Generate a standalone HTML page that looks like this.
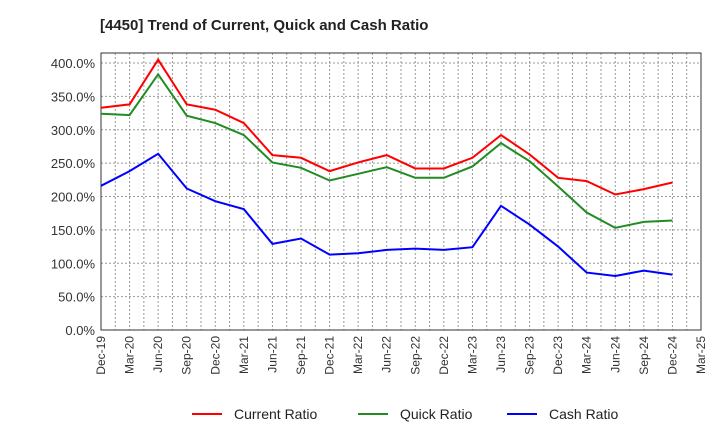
<!DOCTYPE html>
<html><head><meta charset="utf-8"><style>
body{margin:0;background:#fff;font-family:"Liberation Sans",sans-serif}
</style></head><body>
<svg id="c" width="720" height="440" xmlns="http://www.w3.org/2000/svg">
<text x="100" y="30" font-size="15" font-weight="bold" fill="#222">[4450]  Trend of Current, Quick and Cash Ratio</text>
<g id="grid"></g><g id="axes"></g><g id="series"></g>
<g>
<line x1="192" y1="414" x2="222" y2="414" stroke="#f00" stroke-width="2"/><text x="234" y="419" font-size="14" fill="#222">Current Ratio</text>
<line x1="358" y1="414" x2="388" y2="414" stroke="#228b22" stroke-width="2"/><text x="400" y="419" font-size="14" fill="#222">Quick Ratio</text>
<line x1="507" y1="414" x2="537" y2="414" stroke="#00f" stroke-width="2"/><text x="549" y="419" font-size="14" fill="#222">Cash Ratio</text>
</g>
</svg>
<script>
const xLabels=["Dec-19","Mar-20","Jun-20","Sep-20","Dec-20","Mar-21","Jun-21","Sep-21","Dec-21","Mar-22","Jun-22","Sep-22","Dec-22","Mar-23","Jun-23","Sep-23","Dec-23","Mar-24","Jun-24","Sep-24","Dec-24","Mar-25"];
const yTicks=[0,50,100,150,200,250,300,350,400];
const current=[333,338,405,338,330,310,262,258,238,251,262,242,242,258,292,263,228,223,203,211,221];
const quick=[324,322,383,321,310,292,251,243,224,234,244,228,228,245,280,253,215,176,153,162,164];
const cash=[216,238,264,212,193,181,129,137,113,115,120,122,120,124,186,158,125,86,81,89,83];
const L=101,R=701,T=53,B=330,NS="http://www.w3.org/2000/svg";
const xs=i=>L+(R-L)*i/(xLabels.length-1);
const ys=v=>B-(B-63)*v/400;
function mk(t,a,p){const e=document.createElementNS(NS,t);for(const k in a)e.setAttribute(k,a[k]);p.appendChild(e);return e;}
const g=document.getElementById('grid'),ax=document.getElementById('axes'),s=document.getElementById('series');
for(let i=0;i<=(xLabels.length-1)*2;i++){const x=L+(R-L)*i/((xLabels.length-1)*2);
const l=mk('line',{x1:x,x2:x,y1:T,y2:B,stroke:'#999','stroke-dasharray':'2,2','stroke-width':1},g);
}
yTicks.forEach(v=>{const y=ys(v);
const l=mk('line',{x1:L,x2:R,y1:y,y2:y,stroke:'#999','stroke-dasharray':'2,2','stroke-width':1},g);

const t=mk('text',{x:L-6,y:y+5,'text-anchor':'end','font-size':13,fill:'#333'},ax);t.textContent=v.toFixed(1)+'%';
});
const fr=mk('rect',{x:L,y:T,width:R-L,height:B-T,fill:'none',stroke:'#333','stroke-width':1},ax);

xLabels.forEach((lb,i)=>{const x=xs(i);
const t=mk('text',{x:x+4,y:B+6,'text-anchor':'end','font-size':12,fill:'#333',transform:`rotate(-90 ${x+4} ${B+6})`},ax);t.textContent=lb;
});
[[current,'#f00','current-ratio-line'],[quick,'#228b22','quick-ratio-line'],[cash,'#00f','cash-ratio-line']].forEach(([d,c,n])=>{
const p=mk('polyline',{points:d.map((v,i)=>xs(i)+','+ys(v)).join(' '),fill:'none',stroke:c,'stroke-width':2},s);
});
</script>
</body></html>
